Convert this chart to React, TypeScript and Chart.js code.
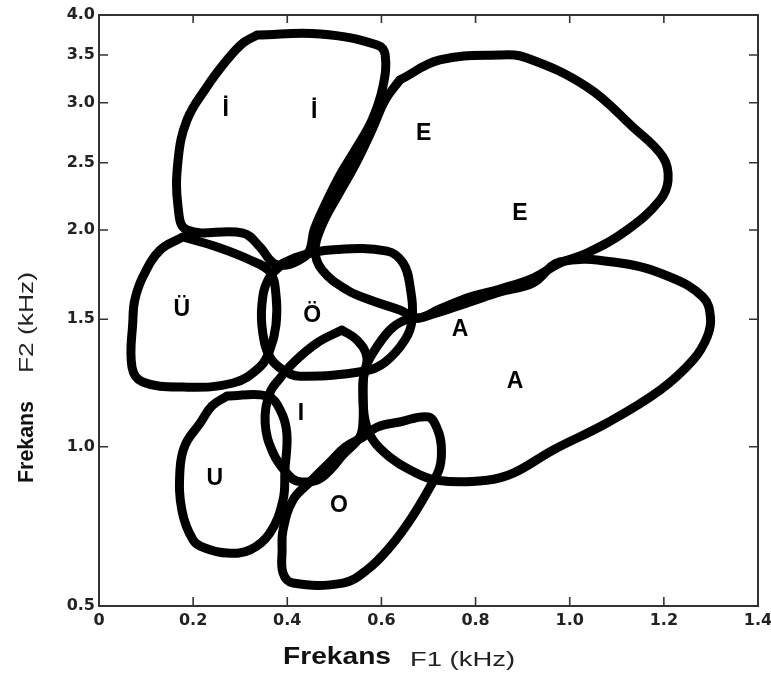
import { useEffect, useRef } from 'react';
import { Chart, LinearScale, registerables } from 'chart.js';

type Pt = [number, number]; // [F1 kHz, F2 kHz]

// Axis ranges and ticks
const F1_MIN = 0;
const F1_MAX = 1.4;
const F1_STEP = 0.2;
const F2_TICKS = [0.5, 1.0, 1.5, 2.0, 2.5, 3.0, 3.5, 4.0];
// The F2 axis is stretched unevenly: fraction of axis height (from the bottom) at each tick value
const F2_TICK_FRACTIONS = [0, 0.2695, 0.4851, 0.6362, 0.7501, 0.8516, 0.9323, 1];

// Vowel region outlines (F1, F2 in kHz)
const REGION_I_DOTTED: Pt[] = [
  [0.336, 3.75], [0.47, 3.763], [0.591, 3.625], [0.608, 3.5], [0.603, 3.165], [0.58, 2.856],
  [0.544, 2.606], [0.512, 2.409], [0.48, 2.186], [0.457, 2.0], [0.448, 1.888], [0.433, 1.843],
  [0.399, 1.804], [0.37, 1.815], [0.342, 1.905], [0.306, 1.983], [0.187, 2.0], [0.168, 2.171],
  [0.168, 2.522], [0.187, 2.856], [0.229, 3.165], [0.272, 3.448], [0.306, 3.65],
];
const REGION_E: Pt[] = [
  [0.639, 3.238], [0.724, 3.448], [0.852, 3.5], [0.909, 3.469], [1.037, 3.165], [1.134, 2.798],
  [1.198, 2.548], [1.209, 2.371], [1.192, 2.223], [1.122, 2.0], [1.037, 1.871], [0.979, 1.815],
  [0.922, 1.731], [0.852, 1.67], [0.788, 1.625], [0.724, 1.558], [0.678, 1.507], [0.639, 1.552],
  [0.576, 1.608], [0.527, 1.664], [0.474, 1.776], [0.459, 1.888], [0.474, 2.037], [0.508, 2.26],
  [0.544, 2.483], [0.58, 2.773], [0.608, 3.028],
];
const REGION_A: Pt[] = [
  [0.682, 1.507], [0.724, 1.541], [0.788, 1.597], [0.852, 1.653], [0.922, 1.703], [0.979, 1.821],
  [1.107, 1.815], [1.213, 1.737], [1.283, 1.625], [1.299, 1.513], [1.292, 1.431], [1.262, 1.34],
  [1.192, 1.222], [1.079, 1.093], [0.965, 0.99], [0.88, 0.917], [0.824, 0.895], [0.718, 0.895],
  [0.661, 0.927], [0.618, 0.967], [0.582, 1.026], [0.565, 1.105], [0.561, 1.222], [0.565, 1.301],
  [0.582, 1.368], [0.618, 1.458], [0.65, 1.497],
];
const REGION_U_UMLAUT: Pt[] = [
  [0.178, 1.961], [0.251, 1.905], [0.321, 1.832], [0.363, 1.765], [0.376, 1.636], [0.376, 1.478],
  [0.363, 1.38], [0.342, 1.313], [0.285, 1.25], [0.178, 1.234], [0.093, 1.254], [0.07, 1.313],
  [0.072, 1.497], [0.076, 1.608], [0.093, 1.737], [0.13, 1.888],
];
const REGION_O_UMLAUT: Pt[] = [
  [0.391, 1.815], [0.427, 1.854], [0.491, 1.888], [0.612, 1.882], [0.646, 1.815], [0.661, 1.681],
  [0.665, 1.497], [0.65, 1.419], [0.608, 1.332], [0.565, 1.297], [0.427, 1.277], [0.391, 1.301],
  [0.363, 1.352], [0.348, 1.446], [0.346, 1.58], [0.359, 1.72],
];
const REGION_I_DOTLESS: Pt[] = [
  [0.516, 1.458], [0.548, 1.419], [0.569, 1.352], [0.561, 1.262], [0.561, 1.105], [0.554, 1.038],
  [0.518, 0.974], [0.491, 0.927], [0.463, 0.895], [0.421, 0.892], [0.399, 0.917], [0.37, 0.98],
  [0.353, 1.093], [0.363, 1.211], [0.385, 1.27], [0.412, 1.328], [0.463, 1.407],
];
const REGION_U: Pt[] = [
  [0.272, 1.199], [0.357, 1.199], [0.385, 1.144], [0.399, 1.054], [0.395, 0.927], [0.391, 0.833],
  [0.363, 0.729], [0.321, 0.676], [0.272, 0.666], [0.225, 0.682], [0.2, 0.707], [0.176, 0.801],
  [0.172, 0.927], [0.183, 1.007], [0.215, 1.093], [0.24, 1.16],
];
const REGION_O: Pt[] = [
  [0.561, 1.038], [0.591, 1.077], [0.639, 1.097], [0.699, 1.117], [0.718, 1.073], [0.727, 1.007],
  [0.724, 0.936], [0.703, 0.873], [0.661, 0.77], [0.618, 0.685], [0.569, 0.613], [0.518, 0.572],
  [0.412, 0.572], [0.391, 0.603], [0.389, 0.676], [0.391, 0.739], [0.412, 0.833], [0.448, 0.889],
  [0.491, 0.952], [0.523, 0.999],
];

const REGIONS: { name: string; pts: Pt[] }[] = [
  { name: 'İ', pts: REGION_I_DOTTED },
  { name: 'E', pts: REGION_E },
  { name: 'A', pts: REGION_A },
  { name: 'Ü', pts: REGION_U_UMLAUT },
  { name: 'Ö', pts: REGION_O_UMLAUT },
  { name: 'I', pts: REGION_I_DOTLESS },
  { name: 'U', pts: REGION_U },
  { name: 'O', pts: REGION_O },
];

// Vowel letters placed inside the regions
const LABEL_TEXT = ['İ', 'İ', 'E', 'E', 'Ü', 'Ö', 'A', 'A', 'I', 'U', 'O'];
const LABEL_F1 = [0.269, 0.457, 0.69, 0.894, 0.176, 0.453, 0.767, 0.884, 0.429, 0.246, 0.51];
const LABEL_F2 = [2.956, 2.939, 2.756, 2.137, 1.563, 1.53, 1.468, 1.262, 1.137, 0.905, 0.822];

function warpF2(v: number): number {
  const t = F2_TICKS;
  const f = F2_TICK_FRACTIONS;
  let i = 0;
  if (v >= t[t.length - 1]) i = t.length - 2;
  else if (v > t[0]) {
    while (i < t.length - 2 && v > t[i + 1]) i++;
  }
  return f[i] + ((v - t[i]) * (f[i + 1] - f[i])) / (t[i + 1] - t[i]);
}

function unwarpF2(d: number): number {
  const t = F2_TICKS;
  const f = F2_TICK_FRACTIONS;
  let i = 0;
  if (d >= f[f.length - 1]) i = f.length - 2;
  else if (d > f[0]) {
    while (i < f.length - 2 && d > f[i + 1]) i++;
  }
  return t[i] + ((d - f[i]) * (t[i + 1] - t[i])) / (f[i + 1] - f[i]);
}

// Linear ticks, but values placed along the stretched F2 axis
class WarpedScale extends LinearScale {
  static id = 'warped';
  static defaults = {};
  getPixelForValue(value: number) {
    if (value === null || value === undefined) return NaN;
    return this.getPixelForDecimal(warpF2(value));
  }
  getValueForPixel(pixel: number) {
    return unwarpF2(this.getDecimalForPixel(pixel));
  }
}

Chart.register(...registerables, WarpedScale);

const TICK_FONT = { family: '"DejaVu Sans", sans-serif', size: 16, weight: 'bold' as const };
const LABEL_FONT = 'bold 23px "Liberation Sans", Arial, sans-serif';

function closed(pts: Pt[]) {
  const d = pts.map(([x, y]) => ({ x, y }));
  d.push({ x: pts[0][0], y: pts[0][1] });
  return d;
}

function drawStretched(ctx: CanvasRenderingContext2D, text: string, font: string, width: number) {
  ctx.font = font;
  const w = ctx.measureText(text).width;
  ctx.save();
  ctx.scale(width / w, 1);
  ctx.fillText(text, 0, 0);
  ctx.restore();
}

const framePlugin = {
  id: 'frameAndTitles',
  afterDatasetsDraw(chart: any) {
    const { ctx, scales } = chart;
    const xs = scales.x;
    const ys = scales.y;
    ctx.save();
    ctx.fillStyle = '#000';
    ctx.font = LABEL_FONT;
    ctx.textAlign = 'center';
    ctx.textBaseline = 'alphabetic';
    LABEL_TEXT.forEach((t, i) => {
      const px = xs.getPixelForValue(LABEL_F1[i]);
      const py = ys.getPixelForValue(LABEL_F2[i]);
      ctx.fillText(t, px, py + 8.2);
    });
    ctx.restore();
  },
  afterDraw(chart: any) {
    const { ctx, chartArea: a, scales } = chart;
    const xs = scales.x;
    const ys = scales.y;
    ctx.save();
    ctx.strokeStyle = '#333';
    ctx.lineWidth = 2;
    ctx.strokeRect(a.left, a.top, a.right - a.left, a.bottom - a.top);
    ctx.lineWidth = 1.6;
    const TL = 9;
    ctx.beginPath();
    xs.ticks.forEach((t: any) => {
      const px = xs.getPixelForValue(t.value);
      ctx.moveTo(px, a.bottom);
      ctx.lineTo(px, a.bottom - TL);
      ctx.moveTo(px, a.top);
      ctx.lineTo(px, a.top + TL - 1);
    });
    ys.ticks.forEach((t: any) => {
      const py = ys.getPixelForValue(t.value);
      ctx.moveTo(a.left, py);
      ctx.lineTo(a.left + TL, py);
      ctx.moveTo(a.right, py);
      ctx.lineTo(a.right - TL, py);
    });
    ctx.stroke();

    // axis titles
    ctx.fillStyle = '#111';
    ctx.textAlign = 'left';
    ctx.textBaseline = 'alphabetic';
    ctx.save();
    ctx.translate(a.left + 184, 664);
    drawStretched(ctx, 'Frekans', 'bold 23px "Liberation Sans", Arial, sans-serif', 108);
    ctx.restore();
    ctx.fillStyle = '#222';
    ctx.save();
    ctx.translate(a.left + 311, 666);
    drawStretched(ctx, 'F1 (kHz)', '21px "Liberation Sans", Arial, sans-serif', 105);
    ctx.restore();

    ctx.fillStyle = '#111';
    ctx.save();
    ctx.translate(33, 483);
    ctx.rotate(-Math.PI / 2);
    drawStretched(ctx, 'Frekans', 'bold 22px "Liberation Sans", Arial, sans-serif', 82);
    ctx.restore();
    ctx.fillStyle = '#222';
    ctx.save();
    ctx.translate(33, 373);
    ctx.rotate(-Math.PI / 2);
    drawStretched(ctx, 'F2 (kHz)', '20px "Liberation Sans", Arial, sans-serif', 101);
    ctx.restore();
    ctx.restore();
  },
};

export default function App() {
  const ref = useRef<HTMLCanvasElement>(null);
  useEffect(() => {
    if (!ref.current) return;
    const chart = new Chart(ref.current, {
      type: 'scatter',
      data: {
        datasets: REGIONS.map((r) => ({
          label: r.name,
          data: closed(r.pts),
          showLine: true,
          borderColor: '#000',
          backgroundColor: '#000',
          borderWidth: 9,
          tension: 0.4,
          pointRadius: 0,
          fill: false,
          borderJoinStyle: 'round' as const,
          borderCapStyle: 'round' as const,
        })),
      },
      options: {
        animation: false,
        responsive: false,
        events: [],
        layout: { padding: { top: 15, right: 13, left: 0, bottom: 0 } },
        plugins: { legend: { display: false }, tooltip: { enabled: false } },
        scales: {
          x: {
            type: 'linear',
            min: F1_MIN,
            max: F1_MAX,
            grid: { display: false, drawTicks: false },
            border: { display: false },
            ticks: {
              stepSize: F1_STEP,
              autoSkip: false,
              maxRotation: 0,
              padding: 5,
              color: '#222',
              font: TICK_FONT,
              callback: (v: any) => (Math.abs(Number(v)) < 1e-9 ? '0' : Number(v).toFixed(1)),
            },
            afterFit: (s: any) => {
              s.height = 73;
              s.paddingLeft = 0;
              s.paddingRight = 0;
            },
          },
          y: {
            type: 'warped' as any,
            min: F2_TICKS[0],
            max: F2_TICKS[F2_TICKS.length - 1],
            grid: { display: false, drawTicks: false },
            border: { display: false },
            ticks: {
              stepSize: 0.5,
              autoSkip: false,
              padding: 4,
              color: '#222',
              font: TICK_FONT,
              callback: (v: any) => Number(v).toFixed(1),
            },
            afterFit: (s: any) => {
              s.width = 99;
              s.paddingTop = 0;
              s.paddingBottom = 0;
            },
          },
        },
      } as any,
      plugins: [framePlugin],
    });
    return () => chart.destroy();
  }, []);
  return (
    <div style={{ position: 'fixed', left: 0, top: 0, width: 771, height: 679, background: '#fff' }}>
      <canvas ref={ref} width={771} height={679} style={{ display: 'block' }} />
    </div>
  );
}
